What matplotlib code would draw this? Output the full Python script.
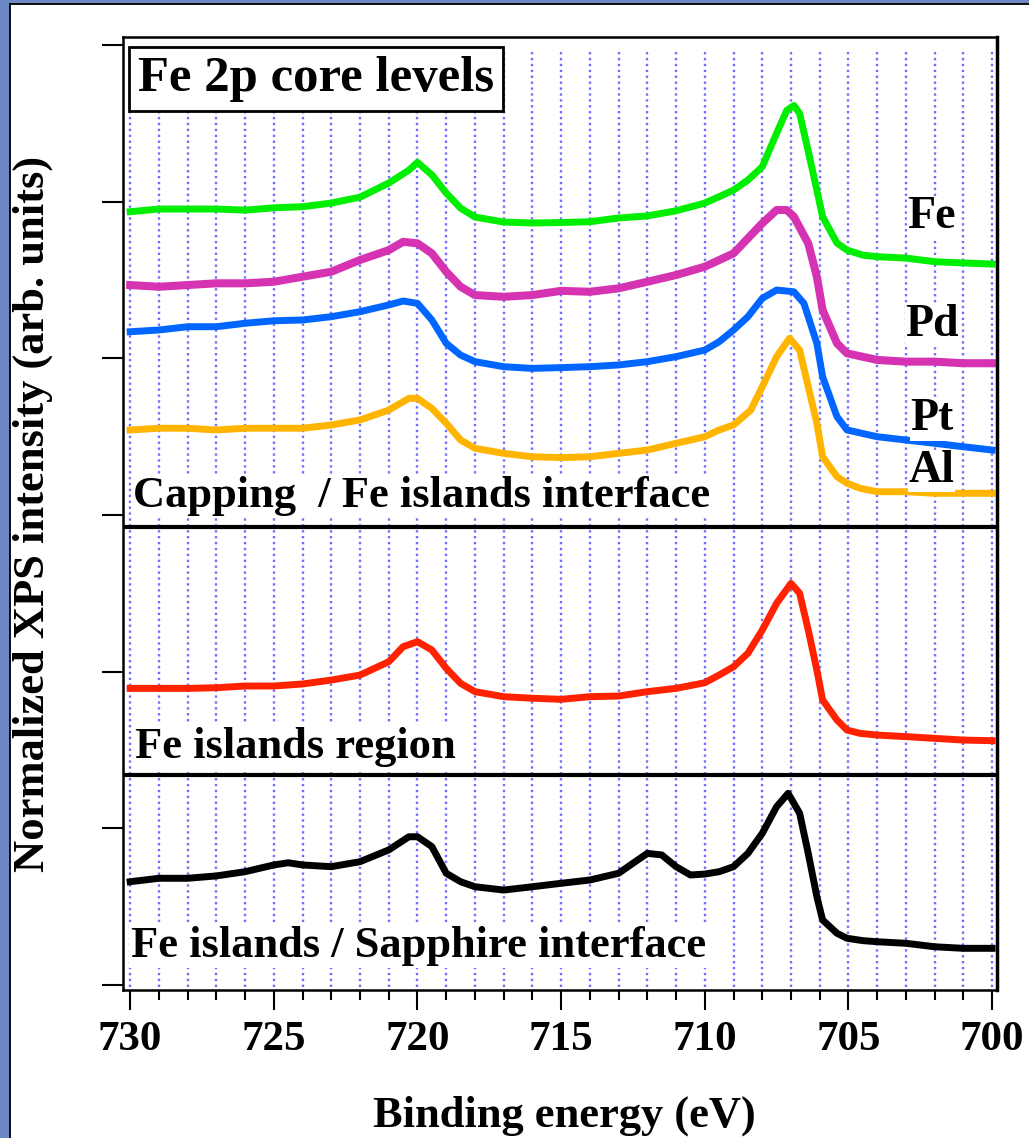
import numpy as np
import matplotlib
matplotlib.use("Agg")
import matplotlib.pyplot as plt
from matplotlib.patches import Rectangle
from matplotlib.lines import Line2D
from matplotlib.ticker import MultipleLocator

plt.rcParams['font.family'] = ['Liberation Serif', 'DejaVu Serif']
plt.rcParams['font.weight'] = 'bold'

# Fe 2p spectra, stacked (arb. units incl. offsets)
e_fe = [730, 729, 728, 727, 726, 725, 724, 723, 722, 721,
        720.3, 720.0, 719.5, 719, 718.5, 718,
        717, 716, 715, 714, 713, 712, 711, 710,
        709.5, 709, 708.5, 708, 707.5, 707.15, 706.9, 706.7, 706.4, 706.1, 705.9, 705.4, 705.05, 704.5,
        704, 703, 702, 701, 700]
fe = [4.935, 4.952, 4.952, 4.952, 4.945, 4.960, 4.967, 4.990, 5.028, 5.118,
      5.200, 5.250, 5.170, 5.054, 4.958, 4.901,
      4.869, 4.863, 4.866, 4.871, 4.895, 4.908, 4.941, 4.990,
      5.031, 5.073, 5.137, 5.222, 5.436, 5.581, 5.613, 5.562, 5.321, 5.073, 4.903, 4.735, 4.690, 4.658,
      4.648, 4.639, 4.616, 4.608, 4.601]

e_pd = [730, 729, 728, 727, 726, 725, 724, 723, 722, 721,
        720.5, 720, 719.5, 719, 718.5, 718,
        717, 716, 715, 714, 713, 712, 711, 710,
        709, 708.5, 708, 707.5, 707.15, 706.9, 706.4, 706.1, 705.9, 705.4, 705.05,
        704, 703, 702, 701, 700]
pd = [4.467, 4.456, 4.467, 4.478, 4.478, 4.488, 4.520, 4.552, 4.627, 4.690,
      4.743, 4.733, 4.669, 4.552, 4.456, 4.403,
      4.392, 4.403, 4.430, 4.424, 4.446, 4.488, 4.531, 4.584,
      4.669, 4.765, 4.861, 4.946, 4.946, 4.903, 4.733, 4.520, 4.308, 4.095, 4.031,
      3.989, 3.978, 3.978, 3.968, 3.968]

e_pt = [730, 729, 728, 727, 726, 725, 724, 723, 722, 721,
        720.5, 720, 719.5, 719, 718.5, 718,
        717, 716, 715, 714, 713, 712, 711, 710,
        709.5, 709, 708.5, 708, 707.5, 706.9, 706.55, 706.1, 705.9, 705.4, 705.05,
        704, 703, 702, 701, 700]
pt = [4.169, 4.180, 4.201, 4.201, 4.223, 4.239, 4.244, 4.265, 4.297, 4.340,
      4.365, 4.350, 4.244, 4.095, 4.020, 3.978,
      3.946, 3.935, 3.940, 3.946, 3.957, 3.978, 4.010, 4.052,
      4.105, 4.180, 4.265, 4.382, 4.435, 4.424, 4.350, 4.095, 3.882, 3.627, 3.542,
      3.499, 3.478, 3.457, 3.435, 3.414]

e_al = [730, 729, 728, 727, 726, 725, 724, 723, 722, 721,
        720.3, 720, 719.5, 719, 718.5, 718,
        717, 716, 715, 714, 713, 712, 711, 710,
        709.5, 709, 708.4, 708, 707.5, 707.05, 706.7, 706.4, 706.1, 705.9, 705.4, 705.05, 704.6,
        704, 703, 702, 701, 700]
al = [3.542, 3.553, 3.553, 3.542, 3.553, 3.553, 3.553, 3.574, 3.606, 3.669,
      3.744, 3.744, 3.680, 3.585, 3.478, 3.425,
      3.393, 3.371, 3.366, 3.371, 3.393, 3.414, 3.457, 3.499,
      3.542, 3.574, 3.669, 3.818, 4.010, 4.127, 4.052, 3.818, 3.585, 3.371, 3.244, 3.202, 3.170,
      3.148, 3.148, 3.138, 3.138, 3.138]

e_isl = [730, 729, 728, 727, 726, 725, 724, 723, 722, 721,
         720.5, 720, 719.5, 719, 718.5, 718,
         717, 716, 715, 714, 713, 712, 711, 710,
         709.5, 709, 708.5, 708, 707.5, 707.0, 706.7, 706.4, 706.1, 705.9, 705.4, 705.05, 704.6,
         704, 703, 702, 701, 700]
isl = [1.893, 1.893, 1.893, 1.897, 1.908, 1.908, 1.921, 1.946, 1.978, 2.063,
       2.159, 2.191, 2.138, 2.021, 1.925, 1.872,
       1.840, 1.830, 1.823, 1.840, 1.844, 1.872, 1.893, 1.929,
       1.978, 2.031, 2.117, 2.265, 2.436, 2.563, 2.500, 2.265, 2.010, 1.819, 1.691, 1.627, 1.606,
       1.595, 1.585, 1.574, 1.563, 1.559]

e_sap = [730, 729, 728, 727, 726, 725, 724.5, 724, 723, 722,
         721, 720.3, 720, 719.5, 719, 718.5, 718, 717, 716, 715,
         714, 713, 712.5, 712, 711.5, 711, 710.5, 710, 709.5, 709,
         708.5, 708, 707.5, 707.1, 706.7, 706.4, 706.1, 705.9, 705.4, 705.05,
         704.5, 704, 703, 702, 701, 700]
sap = [0.659, 0.681, 0.681, 0.696, 0.723, 0.766, 0.780, 0.766, 0.755, 0.787,
       0.862, 0.946, 0.946, 0.883, 0.713, 0.659, 0.627, 0.606, 0.627, 0.649,
       0.670, 0.713, 0.777, 0.840, 0.830, 0.755, 0.702, 0.708, 0.723, 0.755,
       0.840, 0.968, 1.138, 1.223, 1.096, 0.840, 0.564, 0.415, 0.330, 0.298,
       0.283, 0.276, 0.266, 0.244, 0.234, 0.234]

labels_cap = ['Fe', 'Pd', 'Pt', 'Al']
labels_cap_y = [4.83, 4.14, 3.54, 3.21]
separators = [2.923, 1.340]

W, H = 1029, 1138
fig = plt.figure(figsize=(W / 100, H / 100), dpi=100)
ax = fig.add_axes([123 / W, 1 - 990 / H, 874 / W, 953 / H])

# slide-like frame on top/left
blue = '#6d89c4'
fig.add_artist(Rectangle((0, 0), 9 / W, 1, transform=fig.transFigure, color=blue, zorder=0))
fig.add_artist(Rectangle((0, 1 - 3 / H), 1, 3 / H, transform=fig.transFigure, color=blue, zorder=0))
fig.add_artist(Line2D([9.5 / W, 9.5 / W], [0, 1 - 3.5 / H], transform=fig.transFigure, color='black', lw=1.3))
fig.add_artist(Line2D([9.5 / W, 1], [1 - 3.5 / H, 1 - 3.5 / H], transform=fig.transFigure, color='black', lw=1.3))

# dotted vertical grid every eV
ax.vlines(np.arange(700, 731), -0.01, 5.965, colors='#6f6fff',
          linestyles=(0, (1.0, 1.5)), lw=1.7, zorder=0.5)

lw = 5.0
ax.plot(e_fe, fe, color='#00ee00', lw=lw, solid_joinstyle='round', zorder=2)
ax.plot(e_pd, pd, color='#d633b2', lw=5.8, solid_joinstyle='round', zorder=2)
ax.plot(e_pt, pt, color='#0066ff', lw=lw, solid_joinstyle='round', zorder=2)
ax.plot(e_al, al, color='#ffb400', lw=lw, solid_joinstyle='round', zorder=2)
ax.plot(e_isl, isl, color='#ff2200', lw=lw, solid_joinstyle='round', zorder=2)
ax.plot(e_sap, sap, color='black', lw=lw, solid_joinstyle='round', zorder=2)

for yy in separators:
    ax.axhline(yy, color='black', lw=3, zorder=3)

fs = 32
wbg = dict(facecolor='white', edgecolor='none', pad=1.5)
ax.text(729.72, 5.705, 'Fe 2p core levels', fontsize=36.5, fontweight='bold', va='baseline', ha='left',
        bbox=dict(boxstyle='square,pad=0.18', facecolor='white', edgecolor='black', lw=2), zorder=4)
ax.text(729.9, 3.05, 'Capping  / Fe islands interface', fontsize=fs, fontweight='bold',
        va='baseline', ha='left', bbox=wbg, zorder=4)
ax.text(729.83, 1.449, 'Fe islands region', fontsize=fs, fontweight='bold',
        va='baseline', ha='left', bbox=wbg, zorder=4)
ax.text(729.97, 0.179, 'Fe islands / Sapphire interface', fontsize=fs, fontweight='bold',
        va='baseline', ha='left', bbox=wbg, zorder=4)
for lab, yy in zip(labels_cap, labels_cap_y):
    ax.text(702.1, yy, lab, fontsize=33, fontweight='bold', va='baseline', ha='center',
            bbox=dict(facecolor='white', edgecolor='none', pad=0.3), zorder=4)

ax.set_xlim(730.25, 699.83)
ax.set_ylim(-0.032, 6.05)

ax.xaxis.set_major_locator(MultipleLocator(5))
ax.xaxis.set_minor_locator(MultipleLocator(1))
ax.yaxis.set_major_locator(MultipleLocator(1))
ax.tick_params(axis='x', which='major', direction='out', length=14.5, width=1.5,
               labelsize=31, pad=8)
ax.tick_params(axis='x', which='minor', direction='out', length=7, width=1.5)
ax.tick_params(axis='y', which='major', direction='out', length=15, width=1.5, labelleft=False)
ax.tick_params(axis='y', which='minor', left=False)
for lab in ax.get_xticklabels():
    lab.set_fontweight('bold')
for sp in ax.spines.values():
    sp.set_linewidth(1.8)
ax.spines['right'].set_linewidth(2.5)

fig.text(564 / W, 1 - 1127 / H, 'Binding energy (eV)', fontsize=fs, fontweight='bold',
         ha='center', va='baseline')
fig.text(33 / W, 1 - 514 / H, 'Normalized XPS intensity (arb. units)', fontsize=fs,
         fontweight='bold', rotation=90, ha='center', va='center')

fig.savefig('out.png', dpi=100)
